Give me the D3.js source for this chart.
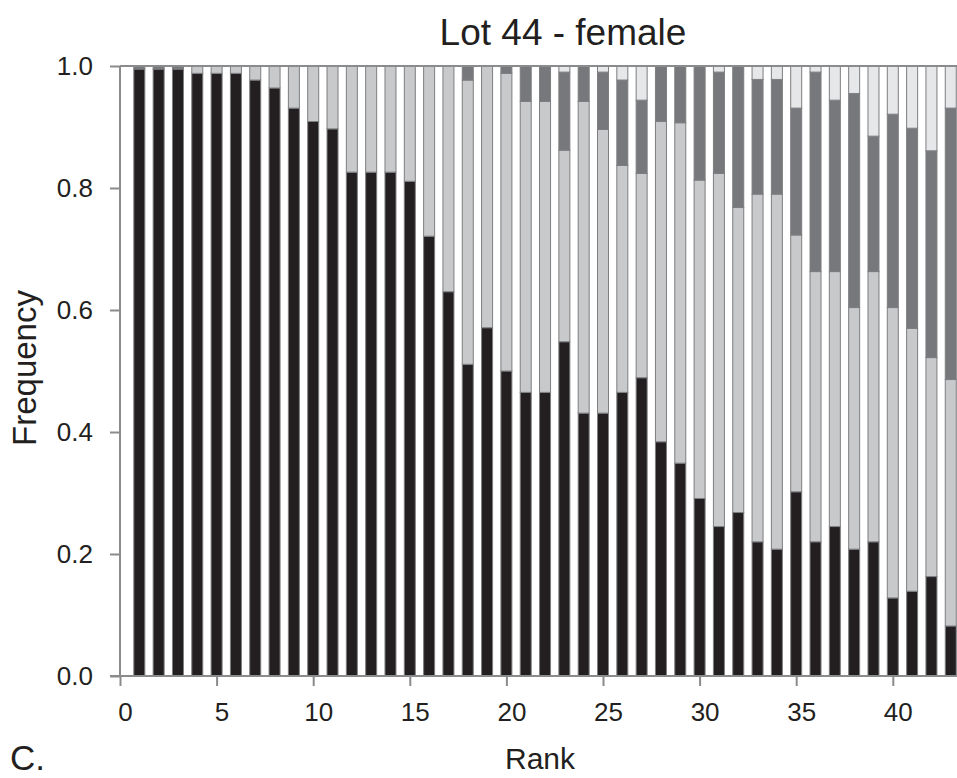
<!DOCTYPE html>
<html>
<head>
<meta charset="utf-8">
<script src="https://cdn.jsdelivr.net/npm/d3@7"></script>
<style>
  html, body { margin: 0; padding: 0; background: #fff; }
  svg { display: block; font-family: "Liberation Sans", Arial, sans-serif; }
</style>
</head>
<body>
<svg id="chart" width="957" height="778"></svg>
<script>
// Rank of each bar
const ranks = d3.range(1, 44);

// Share of each class per rank (bottom to top of the stack)
const blackShare = [
  0.995, 0.995, 0.995, 0.988, 0.988, 0.988, 0.977, 0.964, 0.931, 0.909,
  0.897, 0.826, 0.826, 0.826, 0.811, 0.721, 0.630, 0.511, 0.571, 0.500,
  0.465, 0.465, 0.548, 0.431, 0.431, 0.465, 0.489, 0.384, 0.349, 0.291,
  0.245, 0.268, 0.220, 0.208, 0.302, 0.220, 0.245, 0.208, 0.220, 0.128,
  0.139, 0.163, 0.082
];
const lightShare = [
  0.000, 0.000, 0.000, 0.012, 0.012, 0.012, 0.023, 0.036, 0.069, 0.091,
  0.103, 0.174, 0.174, 0.174, 0.189, 0.279, 0.370, 0.466, 0.429, 0.488,
  0.477, 0.477, 0.314, 0.511, 0.465, 0.372, 0.335, 0.525, 0.558, 0.522,
  0.579, 0.500, 0.570, 0.582, 0.421, 0.443, 0.418, 0.396, 0.443, 0.476,
  0.431, 0.359, 0.404
];
const darkShare = [
  0.005, 0.005, 0.005, 0.000, 0.000, 0.000, 0.000, 0.000, 0.000, 0.000,
  0.000, 0.000, 0.000, 0.000, 0.000, 0.000, 0.000, 0.023, 0.000, 0.012,
  0.058, 0.058, 0.128, 0.058, 0.094, 0.140, 0.120, 0.091, 0.093, 0.187,
  0.166, 0.232, 0.188, 0.188, 0.208, 0.327, 0.281, 0.351, 0.222, 0.317,
  0.328, 0.339, 0.445
];
const paleShare = [
  0.000, 0.000, 0.000, 0.000, 0.000, 0.000, 0.000, 0.000, 0.000, 0.000,
  0.000, 0.000, 0.000, 0.000, 0.000, 0.000, 0.000, 0.000, 0.000, 0.000,
  0.000, 0.000, 0.010, 0.000, 0.010, 0.023, 0.056, 0.000, 0.000, 0.000,
  0.010, 0.000, 0.022, 0.022, 0.069, 0.010, 0.056, 0.045, 0.115, 0.079,
  0.102, 0.139, 0.069
];

const xTicks = [0, 5, 10, 15, 20, 25, 30, 35, 40];
const yTicks = [0.0, 0.2, 0.4, 0.6, 0.8, 1.0];

const seriesKeys = ["black", "light", "dark", "pale"];
const seriesFill = { black: "#231f20", light: "#c8c9cb", dark: "#77787b", pale: "#e6e7e8" };

const rows = ranks.map((r, i) => ({
  rank: r,
  black: blackShare[i],
  light: lightShare[i],
  dark: darkShare[i],
  pale: paleShare[i]
}));

const svg = d3.select("#chart");
const plotLeft = 120, plotBottom = 676, plotTop = 66;

const x = d3.scaleLinear().domain([0, 43.5]).range([plotLeft, plotLeft + 43.5 * 19.32]);
const y = d3.scaleLinear().domain([0, 1]).range([plotBottom, plotTop]);

const stacked = d3.stack().keys(seriesKeys)(rows);
const barW = 11;

svg.append("g")
  .selectAll("g")
  .data(stacked)
  .join("g")
  .attr("fill", d => seriesFill[d.key])
  .selectAll("rect")
  .data(d => d.filter(s => s[1] - s[0] > 0))
  .join("rect")
  .attr("x", s => x(s.data.rank) - barW / 2)
  .attr("width", barW)
  .attr("y", s => y(s[1]))
  .attr("height", s => y(s[0]) - y(s[1]))
  .attr("stroke", "#7d7e80")
  .attr("stroke-width", 1);

const axisColor = "#8a8b8d";

// Frame line along the top at 1.0
svg.append("line")
  .attr("x1", plotLeft).attr("x2", 957)
  .attr("y1", y(1)).attr("y2", y(1))
  .attr("stroke", axisColor).attr("stroke-width", 2);

// Y axis
const yAxis = svg.append("g")
  .attr("transform", `translate(${plotLeft},0)`)
  .call(d3.axisLeft(y).tickValues(yTicks).tickFormat(d3.format(".1f")).tickSize(10).tickPadding(17));
yAxis.select(".domain").attr("stroke", axisColor).attr("stroke-width", 2)
  .attr("d", `M0,${plotBottom}V${plotTop}`);
yAxis.selectAll(".tick line").attr("stroke", axisColor).attr("stroke-width", 2);
yAxis.selectAll(".tick text").attr("fill", "#231f20").style("font-size", "26px");

// X axis
const xAxis = svg.append("g")
  .attr("transform", `translate(0,${plotBottom})`)
  .call(d3.axisBottom(x).tickValues(xTicks).tickFormat(d3.format("d")).tickSize(10).tickPadding(17));
xAxis.select(".domain").attr("stroke", axisColor).attr("stroke-width", 2)
  .attr("d", `M${plotLeft - 10},0H957`);
xAxis.selectAll(".tick line").attr("stroke", axisColor).attr("stroke-width", 2);
xAxis.selectAll(".tick text").attr("fill", "#231f20").attr("dx", 5).style("font-size", "26px");

// Titles
svg.append("text")
  .attr("x", 563).attr("y", 45)
  .attr("text-anchor", "middle")
  .attr("fill", "#231f20")
  .style("font-size", "37px")
  .text("Lot 44 - female");

svg.append("text")
  .attr("transform", "translate(36,368) rotate(-90)")
  .attr("text-anchor", "middle")
  .attr("fill", "#231f20")
  .style("font-size", "33px")
  .text("Frequency");

svg.append("text")
  .attr("x", 540).attr("y", 769)
  .attr("text-anchor", "middle")
  .attr("fill", "#231f20")
  .style("font-size", "30px")
  .text("Rank");

svg.append("text")
  .attr("x", 10).attr("y", 770)
  .attr("fill", "#231f20")
  .style("font-size", "35px")
  .text("C.");
</script>
</body>
</html>
